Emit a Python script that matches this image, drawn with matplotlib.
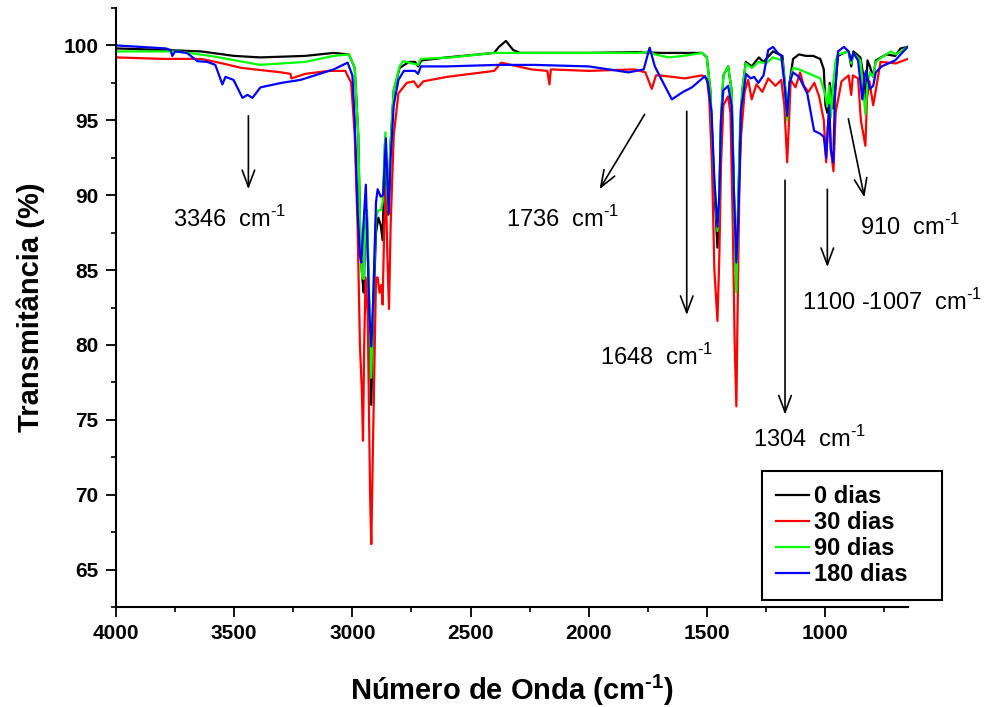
import numpy as np
import matplotlib.pyplot as plt
from matplotlib.ticker import MultipleLocator

plt.rcParams["font.family"] = ["Liberation Sans", "DejaVu Sans"]
plt.rcParams["mathtext.fontset"] = "custom"
plt.rcParams["mathtext.rm"] = "Liberation Sans"
plt.rcParams["mathtext.bf"] = "Liberation Sans:bold"

HY = "\u2010"  # plain hyphen, mathtext would turn "-" into a minus sign

# FTIR spectra: wavenumber (cm-1) and transmittance (%)
wn_0 = [4000, 3800, 3640, 3500, 3390, 3200, 3080, 3015, 2990, 2975, 2965, 2958, 2952, 2945,
        2938, 2928, 2920, 2912, 2900, 2890, 2880, 2872, 2862, 2855, 2848, 2840, 2825, 2800,
        2760, 2735, 2722, 2708, 2600, 2400, 2380, 2350, 2320, 2290, 2000, 1800, 1690, 1520,
        1500, 1485, 1470, 1455, 1448, 1440, 1430, 1410, 1395, 1385, 1375, 1368, 1360, 1350,
        1335, 1310, 1280, 1260, 1220, 1180, 1170, 1160, 1150, 1135, 1110, 1080, 1050, 1020,
        1005, 998, 990, 980, 965, 955, 945, 920, 900, 889, 880, 850, 838, 829, 820, 810,
        796, 785, 740, 703, 680, 650]
t_0 = [99.8, 99.7, 99.6, 99.3, 99.2, 99.3, 99.5, 99.4, 98.5, 94.0, 86.0, 84.5, 83.5, 88.0,
       88.5, 82.0, 76.0, 82.0, 87.5, 88.5, 88.0, 87.0, 93.5, 90.0, 88.7, 93.0, 97.0, 98.5,
       98.9, 98.9, 98.6, 99.0, 99.2, 99.5, 99.9, 100.3, 99.7, 99.5, 99.5, 99.55, 99.5, 99.5,
       99.2, 97.0, 91.0, 86.5, 89.0, 95.0, 98.0, 98.6, 97.0, 90.0, 84.0, 89.0, 93.7, 97.0,
       98.9, 98.6, 99.2, 98.9, 99.6, 99.3, 97.5, 95.2, 97.5, 99.1, 99.4, 99.3, 99.3, 99.1,
       98.4, 96.0, 95.5, 97.5, 95.8, 97.5, 99.3, 99.5, 99.6, 98.6, 99.6, 99.2, 98.0, 96.2,
       99.0, 98.6, 97.9, 99.0, 99.4, 99.3, 99.8, 99.9]

wn_30 = [4000, 3800, 3640, 3550, 3470, 3300, 3262, 3258, 3200, 3100, 3030, 3005, 2990, 2978,
         2968, 2960, 2955, 2950, 2944, 2935, 2925, 2920, 2912, 2900, 2893, 2885, 2878, 2872,
         2865, 2858, 2852, 2845, 2838, 2825, 2805, 2770, 2740, 2722, 2700, 2600, 2400, 2370,
         2300, 2243, 2175, 2166, 2160, 2000, 1805, 1760, 1733, 1715, 1700, 1593, 1521, 1500,
         1490, 1478, 1468, 1455, 1447, 1440, 1430, 1410, 1400, 1390, 1382, 1375, 1370, 1362,
         1355, 1340, 1325, 1310, 1290, 1265, 1240, 1210, 1185, 1172, 1160, 1152, 1145, 1125,
         1105, 1090, 1070, 1045, 1025, 1005, 995, 988, 982, 975, 964, 955, 930, 900, 889, 882,
         860, 848, 829, 822, 812, 796, 785, 765, 700, 650]
t_30 = [99.2, 99.1, 99.1, 98.8, 98.5, 98.2, 98.1, 97.8, 98.1, 98.3, 98.3, 97.5, 94.0, 88.0,
        80.0, 77.0, 73.6, 80.0, 84.5, 82.0, 70.0, 66.7, 74.0, 84.5, 84.5, 83.5, 84.0, 82.7,
        88.0, 90.4, 86.0, 82.4, 88.0, 94.0, 96.8, 97.5, 97.6, 97.2, 97.6, 97.9, 98.3, 98.85,
        98.6, 98.4, 98.3, 97.4, 98.4, 98.3, 98.4, 98.2, 97.1, 98.0, 98.0, 97.8, 98.0, 97.8,
        96.5, 92.0, 85.0, 81.6, 86.0, 92.0, 96.0, 96.6, 95.5, 88.0, 80.0, 75.9, 82.0, 90.8,
        94.0, 96.9, 97.7, 96.4, 97.4, 96.9, 97.8, 97.3, 97.7, 96.0, 92.2, 95.0, 97.7, 97.2,
        98.2, 97.3, 96.9, 97.5, 96.6, 95.0, 92.2, 94.5, 95.5, 93.0, 91.6, 95.5, 97.6, 98.0,
        96.7, 98.0, 97.8, 95.0, 93.3, 96.5, 97.6, 96.0, 97.0, 98.9, 98.8, 99.1]

wn_90 = [4000, 3740, 3600, 3390, 3200, 3080, 3015, 2990, 2975, 2965, 2958, 2952, 2945, 2938,
         2928, 2920, 2912, 2900, 2890, 2880, 2872, 2860, 2855, 2848, 2840, 2825, 2800, 2786,
         2722, 2710, 2582, 2400, 2000, 1780, 1746, 1720, 1661, 1600, 1521, 1500, 1485, 1470,
         1455, 1448, 1440, 1430, 1410, 1395, 1385, 1375, 1368, 1360, 1350, 1335, 1310, 1280,
         1250, 1220, 1180, 1170, 1160, 1150, 1135, 1110, 1080, 1050, 1020, 1000, 990, 982,
         975, 965, 955, 945, 920, 900, 889, 880, 850, 838, 829, 820, 810, 796, 785, 760, 720,
         700, 680, 650]
t_90 = [99.6, 99.6, 99.3, 98.7, 98.9, 99.3, 99.4, 98.5, 94.0, 86.0, 84.5, 84.4, 88.0, 89.0,
        83.0, 77.8, 83.0, 88.5, 89.0, 89.0, 89.5, 94.2, 91.0, 89.0, 93.0, 97.0, 98.6, 98.95,
        98.7, 99.1, 99.2, 99.5, 99.5, 99.5, 99.6, 99.4, 99.2, 99.3, 99.5, 99.2, 97.0, 91.5,
        87.6, 89.5, 95.0, 98.0, 98.6, 97.0, 90.0, 83.5, 89.0, 94.5, 97.0, 98.8, 98.5, 98.9,
        98.8, 99.2, 99.0, 97.5, 95.0, 97.5, 98.5, 98.4, 98.2, 98.0, 97.8, 96.8, 95.9, 97.3,
        95.2, 97.5, 99.0, 99.4, 99.5, 99.6, 98.8, 99.5, 99.0, 97.0, 95.4, 97.5, 98.2, 97.9,
        98.9, 99.2, 99.6, 99.4, 99.6, 99.9]

wn_180 = [4000, 3790, 3770, 3762, 3750, 3700, 3656, 3614, 3580, 3550, 3537, 3503, 3465, 3444,
          3423, 3389, 3300, 3219, 3079, 3020, 3000, 2990, 2978, 2968, 2962, 2955, 2943, 2935,
          2928, 2920, 2912, 2900, 2893, 2880, 2870, 2858, 2852, 2846, 2838, 2825, 2805, 2782,
          2735, 2722, 2710, 2600, 2383, 2230, 2000, 1831, 1767, 1742, 1720, 1691, 1648, 1600,
          1563, 1508, 1495, 1480, 1468, 1455, 1447, 1440, 1430, 1410, 1395, 1385, 1375, 1368,
          1362, 1356, 1348, 1334, 1315, 1300, 1282, 1260, 1240, 1220, 1200, 1185, 1172, 1160,
          1150, 1135, 1110, 1075, 1046, 1020, 1005, 995, 988, 982, 975, 965, 958, 945, 920,
          900, 889, 880, 860, 842, 832, 826, 810, 796, 785, 760, 703, 680, 650]
t_180 = [100.0, 99.8, 99.7, 99.3, 99.6, 99.5, 98.95, 98.9, 98.7, 97.4, 97.9, 97.7, 96.5, 96.7,
         96.5, 97.2, 97.5, 97.7, 98.4, 98.85, 98.0, 95.0, 89.0, 86.0, 85.5, 87.5, 90.7, 86.0,
         82.0, 79.9, 83.0, 89.5, 90.4, 89.9, 90.0, 93.8, 91.0, 88.8, 92.5, 96.0, 97.7, 98.3,
         98.3, 98.1, 98.6, 98.6, 98.7, 98.7, 98.6, 98.2, 98.4, 99.85, 98.6, 97.7, 96.4, 96.9,
         97.2, 97.95, 97.5, 95.5, 91.0, 87.9, 90.0, 95.0, 97.0, 97.3, 96.0, 90.0, 85.5, 88.0,
         91.0, 95.7, 96.5, 98.1, 97.8, 97.9, 97.5, 98.0, 99.7, 99.9, 99.5, 99.3, 97.5, 95.3,
         97.5, 98.2, 97.9, 96.8, 94.3, 94.1, 93.9, 92.5, 94.5, 96.0, 93.0, 92.2, 96.5, 99.6,
         99.9, 99.6, 99.0, 99.5, 99.0, 96.4, 98.0, 98.3, 97.1, 97.3, 98.2, 98.6, 99.0, 99.4,
         99.9]

series = [
    (wn_0, t_0, "0 dias", "#000000"),
    (wn_30, t_30, "30 dias", "#ff0000"),
    (wn_90, t_90, "90 dias", "#00ff00"),
    (wn_180, t_180, "180 dias", "#0000ff"),
]

# band annotations: text, text left edge position, arrow start, arrow end
band_labels = ["3346", "1736", "1648", "1304", "1100 -1007", "910"]
label_xy = [(3758, 88.4), (2349, 88.4), (1954, 79.2), (1304, 73.7), (1096, 82.9), (850, 87.85)]
arrow_from = [(3440, 95.3), (1763, 95.4), (1585, 95.6), (1169, 91.0), (990, 90.4), (901, 95.1)]
arrow_to = [(3440, 90.4), (1954, 90.4), (1585, 82.0), (1169, 75.35), (990, 85.2), (833, 89.85)]

fig = plt.figure(figsize=(9.92, 7.07), dpi=100)
ax = fig.add_axes([0.117, 0.1414, 0.798, 0.8473])

for wn, t, name, color in series:
    ax.plot(wn, t, color=color, linewidth=1.6, label=name + "   ")

for txt, (tx, ty), start, end in zip(band_labels, label_xy, arrow_from, arrow_to):
    ax.annotate("", xy=end, xytext=start,
                arrowprops=dict(arrowstyle="->,head_length=1.2,head_width=0.45",
                                color="black", linewidth=1.2, shrinkA=0, shrinkB=0))
    ax.text(tx, ty, txt + r"  cm$^{\mathregular{" + HY + "1}}$", fontsize=17, ha="left",
            va="center", clip_on=False)

ax.set_xlim(4000, 650)
ax.set_ylim(62.5, 102.5)
ax.set_xticks(np.arange(1000, 4001, 500))
ax.xaxis.set_minor_locator(MultipleLocator(250))
ax.yaxis.set_major_locator(MultipleLocator(5))
ax.yaxis.set_minor_locator(MultipleLocator(2.5))

ax.spines["top"].set_visible(False)
ax.spines["right"].set_visible(False)
for side in ["left", "bottom"]:
    ax.spines[side].set_linewidth(1.5)
ax.tick_params(which="major", direction="out", length=7.5, width=1.3, labelsize=15, pad=5)
ax.tick_params(which="minor", direction="out", length=3.5, width=1.2)
for lab in ax.get_xticklabels() + ax.get_yticklabels():
    lab.set_fontweight("bold")

ax.set_xlabel(r"Número de Onda (cm$^{\mathbf{" + HY + "1}}$)", fontsize=21, fontweight="bold")
ax.set_ylabel("Transmitância (%)", fontsize=21, fontweight="bold")
ax.xaxis.set_label_coords(0.5, -0.110)
ax.yaxis.set_label_coords(-0.090, 0.5)

leg = ax.legend(loc="lower right", bbox_to_anchor=(0.9496, 0.1513), bbox_transform=fig.transFigure,
                prop={"weight": "bold", "size": 17}, frameon=True, fancybox=False,
                edgecolor="black", framealpha=1, handlelength=1.36, handletextpad=0.25,
                labelspacing=0.12, borderpad=0.6, borderaxespad=0)
leg.get_frame().set_linewidth(1.5)

fig.savefig("out.png", dpi=100)
